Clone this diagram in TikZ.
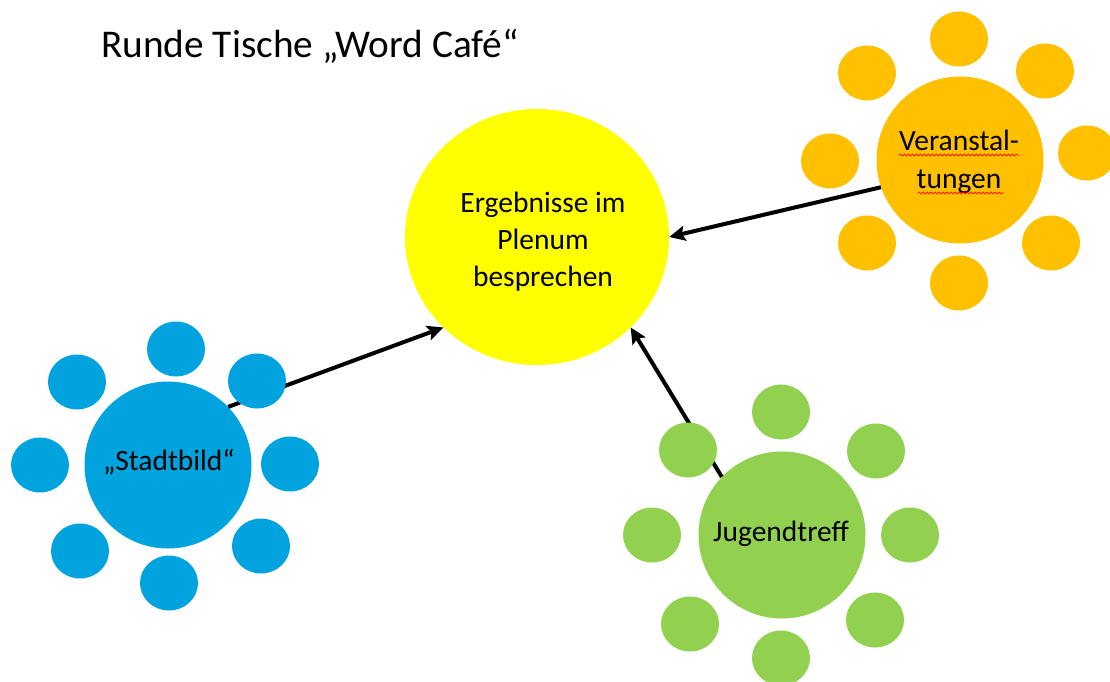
\documentclass[tikz,border=0pt]{standalone}
\usepackage{fontspec}
\setmainfont{Carlito}
\usetikzlibrary{arrows.meta,shapes.geometric,decorations.pathmorphing}
\definecolor{cblue}{RGB}{0,163,221}
\definecolor{corange}{RGB}{255,192,0}
\definecolor{cgreen}{RGB}{146,208,80}
\definecolor{cyellow}{RGB}{255,255,0}
\begin{document}
\begin{tikzpicture}[x=1pt,y=-1pt,
  hub/.style={circle,minimum size=167pt,inner sep=0pt,fill=#1},
  label/.style={font=\fontsize{29.5}{37}\selectfont,align=center,inner sep=0pt,anchor=base},
  link/.style={line width=4pt,-{Stealth[length=16pt,width=15pt,inset=3pt]}},
  wavy/.style={red,line width=0.7pt,decorate,decoration={snake,segment length=4pt,amplitude=1pt}}]
\useasboundingbox (0,0) rectangle (1110,682);
\fill[white] (0,0) rectangle (1110,682);

% title
\node[anchor=base west,inner sep=0pt,font=\fontsize{39.3}{48}\selectfont] (title) at (101,58) {Runde Tische „Word Café“};

% hubs
\node[ellipse,minimum width=264pt,minimum height=256pt,inner sep=0pt,fill=cyellow] (plenum) at (537,237) {};
\node[hub=cblue] (stadt) at (168,465) {};
\node[hub=corange] (veran) at (960,160) {};
\node[hub=cgreen] (jugend) at (782,535) {};

% labels (base anchor = baseline of the last line)
\node[label] (tplenum) at (543,286) {Ergebnisse im\\Plenum\\besprechen};
\node[label] (tstadt) at (169,470) {„Stadtbild“};
\node[label,font=\fontsize{29.5}{38}\selectfont] (tveran) at (959,188) {Veranstal-\\tungen};
\node[label] (tjugend) at (781,541) {Jugendtreff};

% arrows
\draw[link] (stadt.44) -- (plenum.224);
\draw[link] (veran.199) -- (plenum.0);
\draw[link] (jugend.136) -- (plenum.-44);

% seats
\foreach \p in {(176,349),(77,382),(257,381),(40,465),(290,464),(80,551),(261,546),(169,583)}
  \fill[cblue] \p ellipse [x radius=29pt,y radius=27.5pt];
\foreach \p in {(959,39),(867,73),(1045,71),(830,161),(1087,153),(867,243),(1051,243),(959,283)}
  \fill[corange] \p ellipse [x radius=29pt,y radius=27.5pt];
\foreach \p in {(781,412),(688,450),(876,451),(652,535),(910,535),(690,624),(875,620),(781,658)}
  \fill[cgreen] \p ellipse [x radius=29pt,y radius=27.5pt];

% spell-check underlines
\coordinate (w1a) at (899,155); \coordinate (w1b) at (1019,155);
\coordinate (w2a) at (918,193); \coordinate (w2b) at (1004,193);
\draw[wavy] (w1a) -- (w1b);
\draw[wavy] (w2a) -- (w2b);
\end{tikzpicture}
\end{document}
